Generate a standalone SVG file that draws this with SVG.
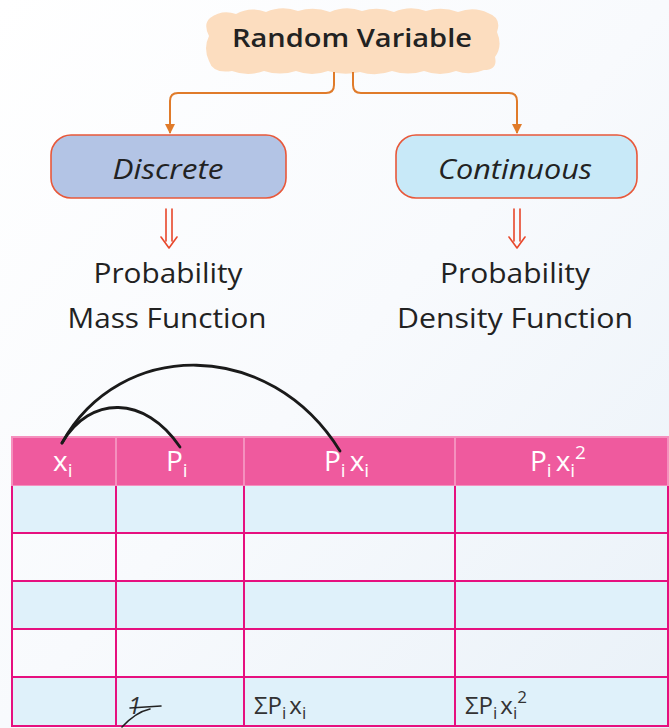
<svg xmlns="http://www.w3.org/2000/svg" width="669" height="728" viewBox="0 0 669 728">
<defs>
<linearGradient id="bg" x1="0" y1="0" x2="1" y2="1">
<stop offset="0" stop-color="#FFFFFF"/>
<stop offset="0.5" stop-color="#F8FAFD"/>
<stop offset="1" stop-color="#E9F1F8"/>
</linearGradient>
<marker id="ah" viewBox="0 0 10 10" refX="9" refY="5" markerWidth="5" markerHeight="5" orient="auto">
<path d="M0,0 L10,5 L0,10 Z" fill="#E07B2A"/>
</marker>
<style>
.hand{font-family:"Open Sans","DejaVu Sans",sans-serif;fill:#222222;}
.box{stroke:#E8583A;stroke-width:1.6;}
.conn{fill:none;stroke:#E07B2A;stroke-width:2;}
.dbl{fill:none;stroke:#E8472B;stroke-width:1.6;stroke-linecap:round;stroke-linejoin:round;}
.hdr{font-family:"Open Sans","DejaVu Sans",sans-serif;fill:#FFFFFF;font-size:28px;}
.cell{font-family:"Open Sans","DejaVu Sans",sans-serif;fill:#333333;font-size:24px;}
.grid{stroke:#E6107F;stroke-width:2;fill:none;}
.arc{fill:none;stroke:#1A1A1A;stroke-width:2.8;stroke-linecap:round;}
</style>
</defs>
<rect x="0" y="0" width="669" height="728" fill="url(#bg)"/>

<g id="random-variable">
<path d="M210,18 Q222,9 236,14 Q250,6 266,12 Q282,5 298,11 Q314,6 330,12 Q346,5 362,11 Q378,6 394,12 Q410,5 426,11 Q442,6 458,12 Q474,6 488,13 Q502,18 497,32 Q503,46 495,57 Q498,70 484,70 Q470,76 456,71 Q440,77 424,71 Q408,76 392,71 Q376,77 360,72 Q344,76 328,71 Q312,77 296,71 Q280,76 264,71 Q248,77 232,71 Q213,74 209,61 Q203,48 209,36 Q203,24 210,18 Z" fill="#FCDDBF"/>
<text x="352" y="47" text-anchor="middle" class="hand" font-size="25" font-weight="600" textLength="240" lengthAdjust="spacingAndGlyphs">Random Variable</text>
</g>

<g id="discrete">
<rect class="box" x="51" y="135" width="235" height="63" rx="20" fill="#B3C4E5"/>
<text x="168" y="179" text-anchor="middle" class="hand" font-size="27" font-style="italic" textLength="111" lengthAdjust="spacingAndGlyphs">Discrete</text>
</g>

<g id="continuous">
<rect class="box" x="396" y="135" width="241" height="63" rx="20" fill="#C8E9F8"/>
<text x="515" y="179" text-anchor="middle" class="hand" font-size="27" font-style="italic" textLength="154" lengthAdjust="spacingAndGlyphs">Continuous</text>
</g>

<g id="pmf">
<text x="168" y="283" text-anchor="middle" class="hand" font-size="27" textLength="149" lengthAdjust="spacingAndGlyphs">Probability</text>
<text x="167" y="328" text-anchor="middle" class="hand" font-size="27" textLength="199" lengthAdjust="spacingAndGlyphs">Mass Function</text>
</g>

<g id="pdf">
<text x="515" y="283" text-anchor="middle" class="hand" font-size="27" textLength="150" lengthAdjust="spacingAndGlyphs">Probability</text>
<text x="515" y="328" text-anchor="middle" class="hand" font-size="27" textLength="236" lengthAdjust="spacingAndGlyphs">Density Function</text>
</g>

<g id="connectors">
<path class="conn" d="M334,72 L334,85 Q334,93 326,93 L178,93 Q170,93 170,101 L170,133" marker-end="url(#ah)"/>
<path class="conn" d="M353,72 L353,85 Q353,93 361,93 L509,93 Q517,93 517,101 L517,133" marker-end="url(#ah)"/>
<path class="dbl" d="M166,209 L166,241 M172,209 L172,241 M161,237 L169,248 L177,237"/>
<path class="dbl" d="M514,209 L514,241 M520,209 L520,241 M509,237 L517,248 L525,237"/>
</g>

<g id="table">
<rect x="12" y="437" width="656" height="49" fill="#EF5A9E" stroke="#F590BE" stroke-width="2"/>
<line x1="116" y1="437" x2="116" y2="486" stroke="#F590BE" stroke-width="2"/>
<line x1="244" y1="437" x2="244" y2="486" stroke="#F590BE" stroke-width="2"/>
<line x1="455" y1="437" x2="455" y2="486" stroke="#F590BE" stroke-width="2"/>
<rect x="12" y="486" width="656" height="47" fill="#DFF1FA"/>
<rect x="12" y="581" width="656" height="48" fill="#DFF1FA"/>
<rect x="12" y="677" width="656" height="50" fill="#DFF1FA"/>
<path class="grid" d="M12,486 L12,727 M116,486 L116,727 M244,486 L244,727 M455,486 L455,727 M668,486 L668,727 M12,533 L668,533 M12,581 L668,581 M12,629 L668,629 M12,677 L668,677 M12,726 L668,726"/>

<text class="hdr" x="53" y="471">x<tspan font-size="19" dy="6">i</tspan></text>
<text class="hdr" x="166" y="471">P<tspan font-size="19" dy="6">i</tspan></text>
<text class="hdr" x="324" y="471">P<tspan font-size="19" dy="6">i</tspan><tspan dy="-6" dx="4">x</tspan><tspan font-size="19" dy="6">i</tspan></text>
<text class="hdr" x="530" y="471">P<tspan font-size="19" dy="6">i</tspan><tspan dy="-6" dx="4">x</tspan><tspan font-size="19" dy="6">i</tspan><tspan font-size="19" dy="-18">2</tspan></text>

<text class="cell" x="128" y="714" font-style="italic">1</text>
<path d="M122,727 Q136,712 150,709 M130,708 L161,706" fill="none" stroke="#222222" stroke-width="1.6" stroke-linecap="round"/>
<text class="cell" x="254" y="714">ΣP<tspan font-size="17" dy="5">i</tspan><tspan dy="-5" dx="3">x</tspan><tspan font-size="17" dy="5">i</tspan></text>
<text class="cell" x="465" y="714">ΣP<tspan font-size="17" dy="5">i</tspan><tspan dy="-5" dx="3">x</tspan><tspan font-size="17" dy="5">i</tspan><tspan font-size="17" dy="-16">2</tspan></text>
</g>

<g id="arcs">
<path class="arc" d="M62,443 C90,395 145,395 180,447"/>
<path class="arc" d="M62,443 C120,338 270,338 340,451"/>
</g>
</svg>
